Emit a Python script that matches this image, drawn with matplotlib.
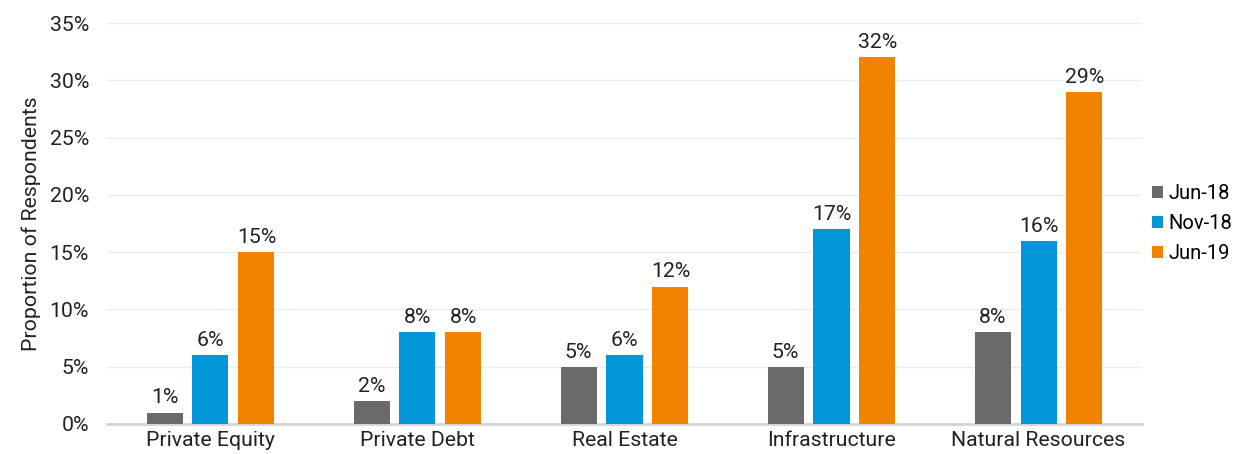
import matplotlib.pyplot as plt
import numpy as np

# data
categories = ["Private Equity", "Private Debt", "Real Estate", "Infrastructure", "Natural Resources"]
series_names = ["Jun-18", "Nov-18", "Jun-19"]
jun18 = [1, 2, 5, 5, 8]
nov18 = [6, 8, 6, 17, 16]
jun19 = [15, 8, 12, 32, 29]
colors = ["#6a6a6a", "#0096d8", "#f08400"]

plt.rcParams['font.family'] = ['Roboto', 'DejaVu Sans']
fs = 15.3

fig = plt.figure(figsize=(12.54, 4.54), dpi=100)
ax = fig.add_axes([0.0853, 0.0661, 0.8254, 0.8832])

x = np.arange(len(categories))
w = 0.174
step = 0.222
for i, (vals, name) in enumerate(zip([jun18, nov18, jun19], series_names)):
    pos = x + (i - 1) * step
    bars = ax.bar(pos, vals, width=w, color=colors[i], label=name, zorder=3)
    for b, v in zip(bars, vals):
        ax.text(b.get_x() + b.get_width() / 2, v + 0.45, f"{v}%", ha='center', va='bottom',
                fontsize=fs, color='#222222')

ax.set_xlim(-0.5, len(categories) - 0.5)
ax.set_ylim(0, 35)
ax.set_yticks(range(0, 36, 5))
ax.set_yticklabels([f"{t}%" for t in range(0, 36, 5)])
ax.set_xticks(x)
ax.set_xticklabels(categories)
ax.tick_params(axis='both', length=0, labelsize=fs, colors='#222222')
ax.tick_params(axis='y', pad=13)
ax.tick_params(axis='x', pad=5)
ax.grid(axis='y', color='#ececec', linewidth=1, zorder=0)
for s in ['top', 'right', 'left']:
    ax.spines[s].set_visible(False)
ax.spines['bottom'].set_color('#d4d4d4')
ax.spines['bottom'].set_linewidth(2)
ax.set_ylabel("Proportion of Respondents", fontsize=fs, color='#222222', labelpad=6)

ax.legend(loc='center left', bbox_to_anchor=(1.0, 0.5), frameon=False, fontsize=14.5,
          handlelength=0.55, handleheight=0.55, handletextpad=0.25, labelspacing=0.55,
          borderaxespad=0.3, borderpad=0.2)

fig.savefig("out.png", dpi=100)
